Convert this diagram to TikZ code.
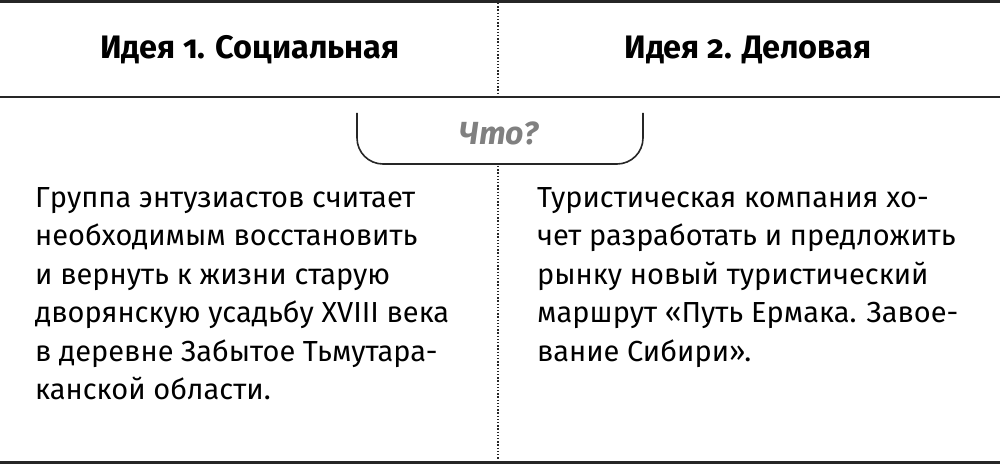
\documentclass[tikz,border=0pt]{standalone}
\usepackage{fontspec}
\setmainfont[Numbers=OldStyle]{Fira Sans}
\begin{document}
\begin{tikzpicture}[x=1pt,y=-1pt,
  rule/.style={line width=2.6pt,color=black!85},
  dots/.style={line width=1.6pt,dash pattern=on 1.4pt off 1.8pt,color=black!85},
  head/.style={font=\fontsize{32.5}{38}\selectfont\fontseries{sb}\selectfont,anchor=base},
  body/.style={font=\fontsize{29}{38.5}\selectfont,anchor=north west,align=left,inner sep=0pt}]
\useasboundingbox (0,0) rectangle (1000,465);
\coordinate (tl) at (0,1.5); \coordinate (tr) at (1000,1.5);
\coordinate (ml) at (0,97); \coordinate (mr) at (1000,97);
\coordinate (bl) at (0,462.5); \coordinate (br) at (1000,462.5);
\coordinate (v1) at (498,3); \coordinate (v2) at (498,95);
\coordinate (v3) at (498,166); \coordinate (v4) at (498,460);
\draw[rule] (tl) -- (tr);
\draw[rule] (ml) -- (mr);
\draw[rule] (bl) -- (br);
\draw[dots] (v1) -- (v2);
\draw[dots] (v3) -- (v4);
\node[head] (h1) at (250,59) {Идея 1. Социальная};
\node[head] (h2) at (748,59) {Идея 2. Деловая};
\draw[line width=1.6pt,color=black!85,rounded corners=26pt] (357,113) -- (357,164) -- (643,164) -- (643,113);
\node[font=\fontsize{32}{36}\selectfont\itshape\bfseries,text=black!50] (q) at (499,133) {Что?};
\node[body] (t1) at (35,187) {Группа энтузиастов считает\\необходимым восстановить\\и вернуть к жизни старую\\дворянскую усадьбу XVIII века\\в деревне Забытое Тьмутара-\\канской области.};
\node[body] (t2) at (537,187) {Туристическая компания хо-\\чет разработать и предложить\\рынку новый туристический\\маршрут «Путь Ермака. Завое-\\вание Сибири».};
\end{tikzpicture}
\end{document}
